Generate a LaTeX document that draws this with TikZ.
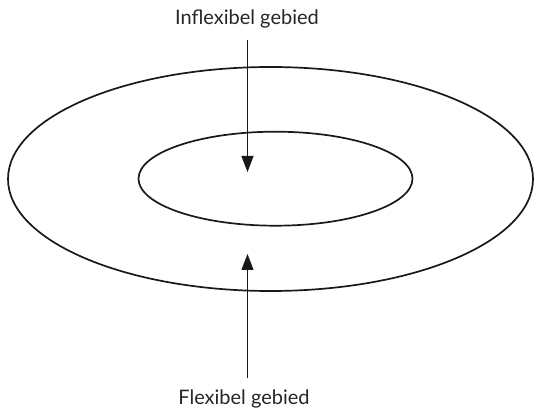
\documentclass[tikz,border=0pt]{standalone}
\usepackage{fontspec}
\setmainfont{Lato}
\usetikzlibrary{arrows.meta}
\begin{document}
\begin{tikzpicture}[x=1pt,y=-1pt,
  ring/.style={draw=black!90, line width=1.7pt},
  lbl/.style={font=\fontsize{20}{24}\selectfont, text=black!85, inner sep=0pt},
  pointer/.style={draw=black!90, line width=1pt, -{Triangle[width=12pt,length=16pt]}}]
\useasboundingbox (0,0) rectangle (539,417);
\draw[ring] (270.5,179) ellipse [x radius=262.5, y radius=112];
\draw[ring] (275.5,178.7) ellipse [x radius=137, y radius=47];
\node[lbl, anchor=base] (top) at (247,25) {Inflexibel gebied};
\node[lbl, anchor=base] (bot) at (244,404) {Flexibel gebied};
\coordinate (topstart) at (247.5,40);
\coordinate (toptip) at (247.5,172);
\coordinate (botstart) at (247.5,378);
\coordinate (bottip) at (247.5,254);
\draw[pointer] (topstart) -- (toptip);
\draw[pointer] (botstart) -- (bottip);
\end{tikzpicture}
\end{document}
